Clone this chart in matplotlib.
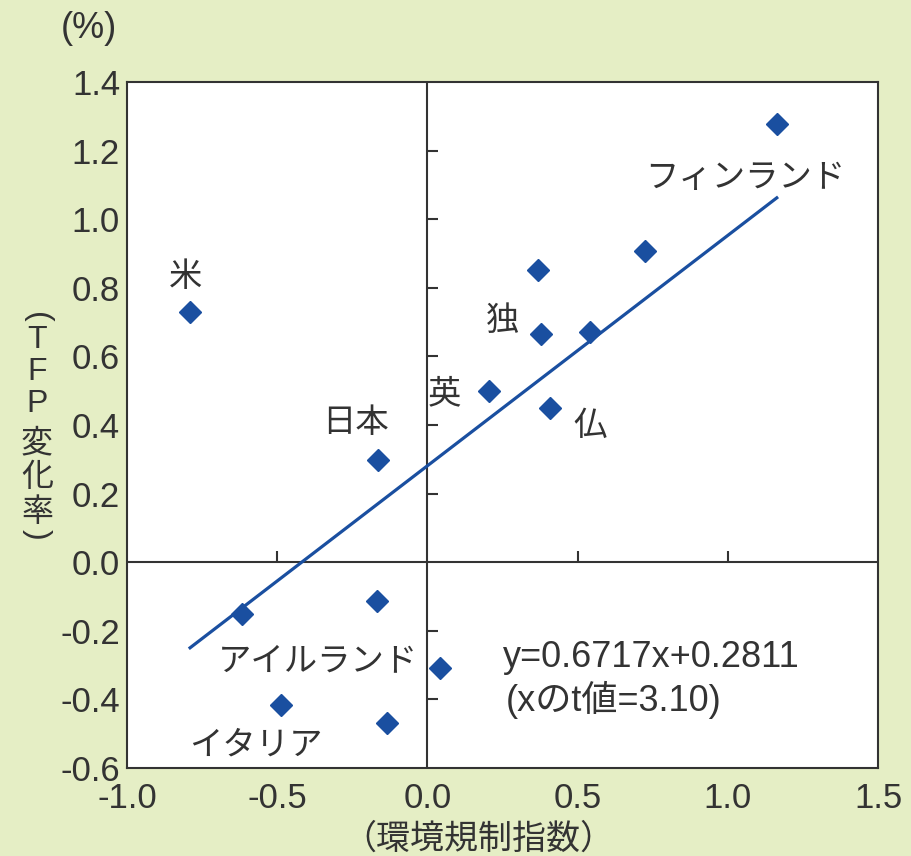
import matplotlib
matplotlib.use("Agg")
import matplotlib.pyplot as plt
import numpy as np

plt.rcParams['font.family'] = ['Noto Sans CJK JP', 'DejaVu Sans']

# Environmental regulation index vs. TFP change rate
env_index = [-0.79, -0.165, -0.616, -0.487, 0.205, 0.377, 0.408, 1.163,
             -0.169, 0.042, -0.133, 0.369, 0.541, 0.724]
tfp_change = [0.729, 0.297, -0.150, -0.417, 0.499, 0.665, 0.450, 1.277,
              -0.113, -0.308, -0.468, 0.851, 0.671, 0.907]

countries = ['米', '日本', 'アイルランド', 'イタリア', '英', '独', '仏', 'フィンランド']
# label anchor points (data coords) for each named country
label_x = [-0.806, -0.241, -0.364, -0.57, 0.058, 0.249, 0.542, 1.057]
label_y = [0.834, 0.408, -0.286, -0.534, 0.49, 0.706, 0.40, 1.122]

slope = 0.6717
intercept = 0.2811
t_value = 3.10

x_ticks = [-1.0, -0.5, 0.0, 0.5, 1.0, 1.5]
y_ticks = [-0.6, -0.4, -0.2, 0.0, 0.2, 0.4, 0.6, 0.8, 1.0, 1.2, 1.4]

bg = '#e5eec5'
ink = '#333333'
blue = '#1a4fa0'
latin = ['Liberation Sans', 'Noto Sans CJK JP', 'DejaVu Sans']

fig = plt.figure(figsize=(9.11, 8.56), dpi=100, facecolor=bg)
ax = fig.add_axes([0.1394, 0.1028, 0.8244, 0.8014])
ax.set_facecolor('white')
ax.set_xlim(-1.0, 1.5)
ax.set_ylim(-0.6, 1.4)

for s in ax.spines.values():
    s.set_color(ink)
    s.set_linewidth(1.5)

ax.set_xticks(x_ticks)
ax.set_yticks(y_ticks)
ax.set_xticklabels([f'{v:.1f}' for v in x_ticks])
ax.set_yticklabels([f'{v:.1f}' for v in y_ticks])
ax.tick_params(length=0, labelsize=25, colors=ink)
ax.tick_params(axis='x', pad=10)
ax.tick_params(axis='y', pad=5)
for lab in ax.get_xticklabels() + ax.get_yticklabels():
    lab.set_family(latin)

# zero lines with inner ticks
ax.axhline(0, color=ink, lw=1.5, zorder=1)
ax.axvline(0, color=ink, lw=1.5, zorder=1)
for yt in y_ticks:
    if yt not in (0.0, -0.6, 1.4):
        ax.plot([0, 0.035], [yt, yt], color=ink, lw=1.5, zorder=1,
                solid_capstyle='butt')
for xt in x_ticks:
    if xt not in (0.0, -1.0, 1.5):
        ax.plot([xt, xt], [0, 0.034], color=ink, lw=1.5, zorder=1,
                solid_capstyle='butt')

# regression line over the data range
xs = np.array([min(env_index), max(env_index)])
ax.plot(xs, slope * xs + intercept, color=blue, lw=2.3, zorder=2)

ax.plot(env_index, tfp_change, linestyle='none', marker='D', ms=11,
        color=blue, mec=blue, zorder=3)

for name, lx, ly in zip(countries, label_x, label_y):
    ax.text(lx, ly, name, fontsize=24, color=ink, ha='center', va='center')

ax.text(0.252, -0.277, f'y={slope:.4f}x+{intercept:.4f}', fontsize=26,
        color=ink, ha='left', va='center', family=latin)
ax.text(0.262, -0.402, f'(xのt値={t_value:.2f})', fontsize=26,
        color=ink, ha='left', va='center', family=latin)

fig.text(89 / 911, 1 - 29 / 856, '(%)', fontsize=26, color=ink,
         ha='center', va='center', family=latin)

# vertical y-axis title, one character per row
ylabel_chars = ['(', 'T', 'F', 'P', '変', '化', '率', ')']
ylabel_pos = [317, 340, 372, 404, 443, 477, 512, 534]
for ch, py in zip(ylabel_chars, ylabel_pos):
    rot = -90 if ch in '()' else 0
    fig.text(37 / 911, 1 - py / 856, ch, fontsize=23, color=ink,
             ha='center', va='center', rotation=rot,
             family=latin if ch in 'TFP()' else None)

fig.text(478 / 911, 1 - 839 / 856, '（環境規制指数）', fontsize=24.5, color=ink,
         ha='center', va='center')

fig.savefig('out.png', dpi=100, facecolor=bg)
